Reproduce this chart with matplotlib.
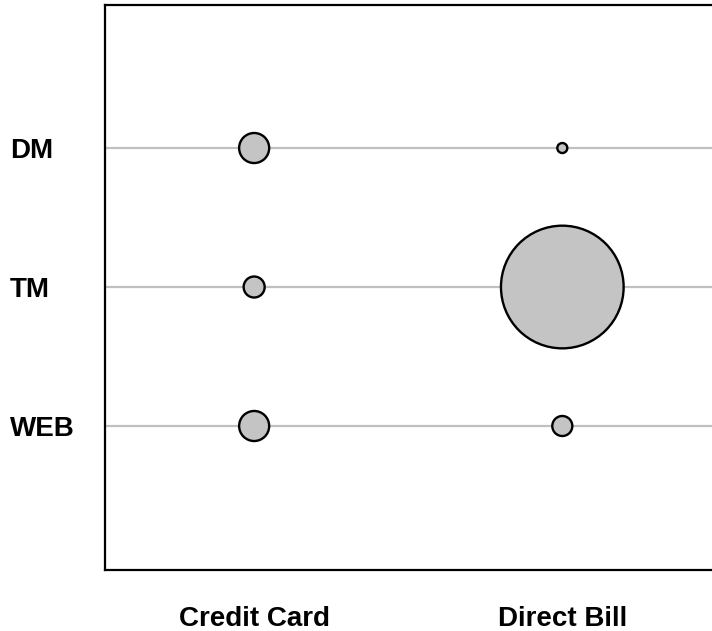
import numpy as np
import matplotlib
matplotlib.use("Agg")
import matplotlib.pyplot as plt

plt.rcParams['font.family'] = ['Liberation Sans', 'DejaVu Sans']

# channels (rows, top to bottom) and payment types (columns)
channels = ['DM', 'TM', 'WEB']
payments = ['Credit Card', 'Direct Bill']

# relative counts
credit_card = [9.0, 4.4, 9.0]
direct_bill = [1.0, 150.0, 4.0]

W, H, DPI = 712, 631, 100
fig = plt.figure(figsize=(W / DPI, H / DPI), dpi=DPI)
# axes box runs a little past the right edge, as in the reference
ax = fig.add_axes([105 / W, 1 - 570 / H, 608.3 / W, 565 / H])

ypos = np.arange(len(channels))[::-1] + 1  # DM=3, TM=2, WEB=1
scale = 52

for y in ypos:
    ax.axhline(y, color='#c0c0c0', lw=1.6, zorder=1)

for i, vals in enumerate([credit_card, direct_bill]):
    ax.scatter(np.full(len(vals), i), ypos, s=np.array(vals) * scale,
               facecolor='#c4c4c4', edgecolor='black', linewidth=1.7,
               zorder=3, clip_on=False)

ax.set_xlim(-0.484, 1.49)
ax.set_ylim(-0.036, 4.029)

ax.set_xticks([0, 1])
ax.set_xticklabels(payments, fontsize=20, fontweight='bold')
ax.set_yticks(ypos)
ax.set_yticklabels(channels, fontsize=20, fontweight='bold', ha='left')
ax.tick_params(axis='x', length=0, pad=26)
ax.tick_params(axis='y', length=0, pad=68.5)

for side in ['left', 'top', 'bottom', 'right']:
    ax.spines[side].set_linewidth(1.6)

fig.savefig('out.png', dpi=DPI)
